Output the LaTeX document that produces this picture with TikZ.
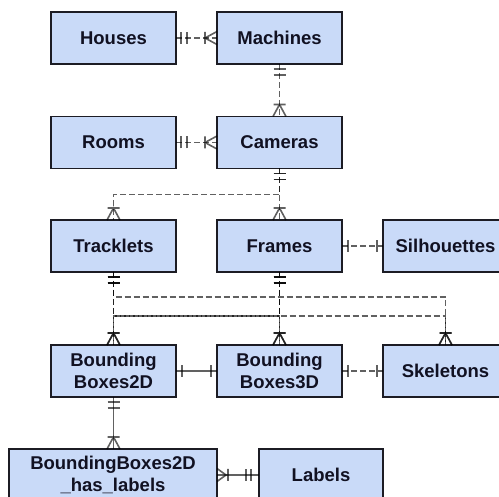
\documentclass[tikz,border=0pt]{standalone}
\usepackage{fontspec}
\setmainfont{Liberation Sans}
\usetikzlibrary{decorations.markings}
\definecolor{boxfill}{HTML}{C9DAF8}
\definecolor{boxtext}{HTML}{111122}
\definecolor{boxline}{HTML}{1C1C24}
\tikzset{
  ent/.style={draw=boxline, fill=boxfill, line width=1.5pt, minimum width=125pt, minimum height=52pt,
    inner sep=0pt, outer sep=0pt, align=center, text=boxtext,
    font=\fontsize{18.5}{21.5}\selectfont\bfseries},
  mk/.style={draw=black, draw opacity=0.62, line width=1.6pt, solid},
  rel/.style={draw=black, draw opacity=0.62, line width=1.6pt},
  reld/.style={rel, dash pattern=on 6pt off 3pt},
  one end/.style={postaction={decorate, decoration={markings,
      mark=at position 1 with {\draw[mk] (-6pt,-6pt) -- (-6pt,6pt);}}}},
  one start/.style={postaction={decorate, decoration={markings,
      mark=at position 0 with {\draw[mk] (6pt,-6pt) -- (6pt,6pt);}}}},
  mand start/.style={postaction={decorate, decoration={markings,
      mark=at position 0 with {\draw[mk] (5pt,-6pt) -- (5pt,6pt) (11pt,-6pt) -- (11pt,6pt);}}}},
  mand end/.style={postaction={decorate, decoration={markings,
      mark=at position 1 with {\draw[mk] (-8pt,-6pt) -- (-8pt,6pt) (-13pt,-6pt) -- (-13pt,6pt);}}}},
  many end/.style={postaction={decorate, decoration={markings,
      mark=at position 1 with {\draw[mk] (-12pt,-6pt) -- (-12pt,6pt) (0pt,-6.5pt) -- (-12pt,0pt) -- (0pt,6.5pt);}}}},
  many start/.style={postaction={decorate, decoration={markings,
      mark=at position 0 with {\draw[mk] (11pt,-6pt) -- (11pt,6pt) (0pt,-6.5pt) -- (9pt,0pt) -- (0pt,6.5pt);}}}},
}
\begin{document}
\begin{tikzpicture}[x=1pt, y=-1pt]
\clip (0,0) rectangle (499,497);
\fill[white] (0,0) rectangle (499,497);
% entities
\node[ent] (houses)   at (113.5,38)  {Houses};
\node[ent] (machines) at (279.5,38)  {Machines};
\node[ent] (rooms)    at (113.5,142.5) {Rooms};
\node[ent] (cameras)  at (279.5,142.5) {Cameras};
\node[ent] (tracklets) at (113.5,246) {Tracklets};
\node[ent] (frames)   at (279.5,246) {Frames};
\node[ent] (silh)     at (445.5,246) {Silhouettes};
\node[ent] (bbtwo)    at (113.5,371) {Bounding\\Boxes2D};
\node[ent] (bbthree)  at (279.5,371) {Bounding\\Boxes3D};
\node[ent] (skel)     at (445.5,371) {Skeletons};
\node[ent, minimum width=208pt] (haslab) at (113,475) {BoundingBoxes2D\\\_has\_labels};
\node[ent, minimum width=124pt] (labels) at (321,475) {Labels};
% relations
\draw[reld, mand start, many end] (houses) -- (machines);
\draw[reld, mand start, many end] (rooms) -- (cameras);
\draw[reld, mand start, many end] (machines) -- (cameras);
\draw[reld, mand start, many end] (cameras) -- (frames);
\draw[reld, mand start, many end] (cameras.south) -- ++(0,26) -| (tracklets.north);
\draw[reld, one start, one end] (frames) -- (silh);
\draw[reld, mand start, many end] (tracklets) -- (bbtwo);
\draw[reld, mand start, many end] (frames) -- (bbthree);
\draw[reld, mand start, many end] (tracklets.south) -- ++(0,25) -| (skel.north);
\draw[reld, mand start, many end] (tracklets.south) -- ++(0,44) -| (bbthree.north);
\draw[reld, mand start, many end] (frames.south) -- ++(0,44) -| (bbtwo.north);
\draw[reld, mand start, many end] (frames.south) -- ++(0,44) -| (skel.north);
\draw[rel, one start, one end] (bbtwo) -- (bbthree);
\draw[reld, one start, one end] (bbthree) -- (skel);
\draw[rel, mand start, many end] (bbtwo) -- (haslab.north -| bbtwo.south);
\draw[rel, many start, mand end] (haslab) -- (labels);
\end{tikzpicture}
\end{document}
